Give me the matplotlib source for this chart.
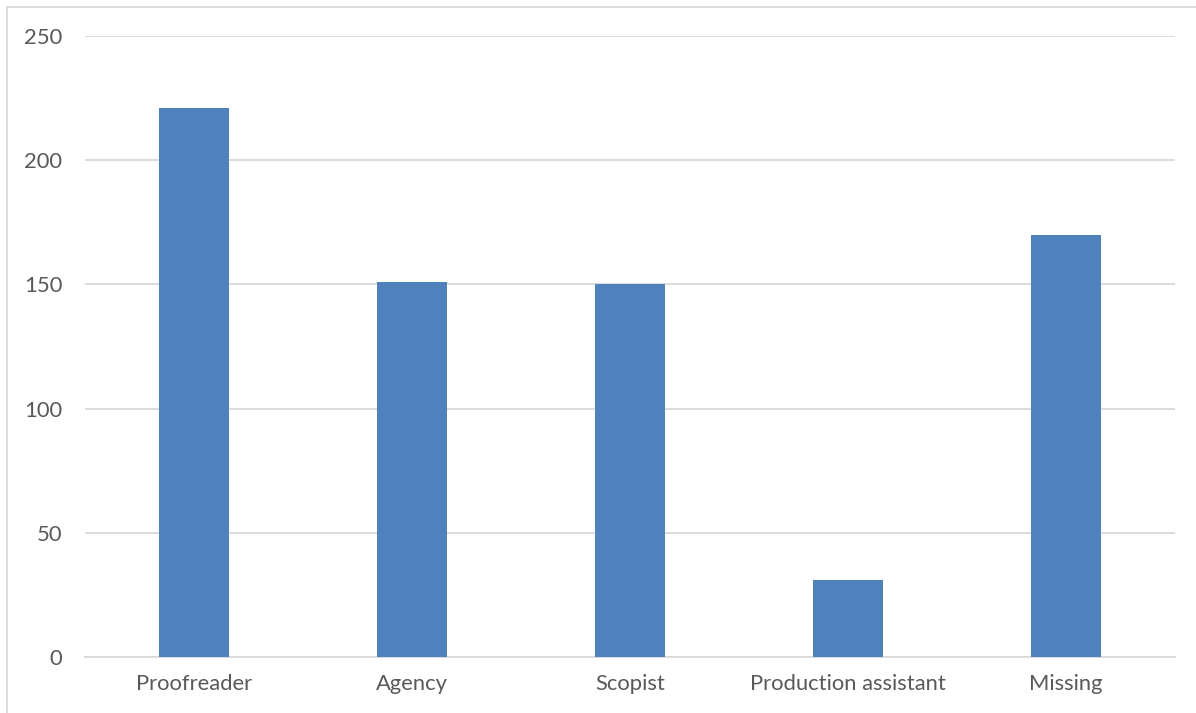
import matplotlib
matplotlib.use("Agg")
import matplotlib.pyplot as plt
from matplotlib.patches import Rectangle

# values
categories = ["Proofreader", "Agency", "Scopist", "Production assistant", "Missing"]
counts = [221, 151, 150, 31, 170]
y_ticks = [0, 50, 100, 150, 200, 250]

BAR = "#4F81BD"
GRID = "#D9D9D9"
TEXT = "#595959"

plt.rcParams['font.family'] = ['Lato', 'DejaVu Sans']

W, H = 1196, 713
fig = plt.figure(figsize=(W / 100, H / 100), dpi=100)
ax = fig.add_axes([85 / W, 1 - 657 / H, (1175 - 85) / W, (657 - 36) / H])

x = list(range(len(categories)))
ax.bar(x, counts, width=0.32, color=BAR, zorder=3)

ax.set_xlim(-0.5, len(categories) - 0.5)
ax.set_ylim(0, 250)
ax.set_yticks(y_ticks)
ax.set_yticklabels([str(t) for t in y_ticks])
ax.set_xticks(x)
ax.set_xticklabels(categories)

ax.grid(axis='y', color=GRID, linewidth=1.3, zorder=0)
for s in ['top', 'right', 'left']:
    ax.spines[s].set_visible(False)
ax.spines['bottom'].set_color(GRID)
ax.spines['bottom'].set_linewidth(1.3)
ax.tick_params(axis='both', length=0, labelsize=15.8, colors=TEXT)
ax.tick_params(axis='y', pad=16.5)
ax.tick_params(axis='x', pad=12)

# chart-area border, partly cut off at right and bottom
fig.patches.append(Rectangle((7 / W, -0.1), 1.2, 1 - 7 / H + 0.1,
                             transform=fig.transFigure, fill=False,
                             edgecolor=GRID, linewidth=1.3))

fig.savefig("out.png", dpi=100)
